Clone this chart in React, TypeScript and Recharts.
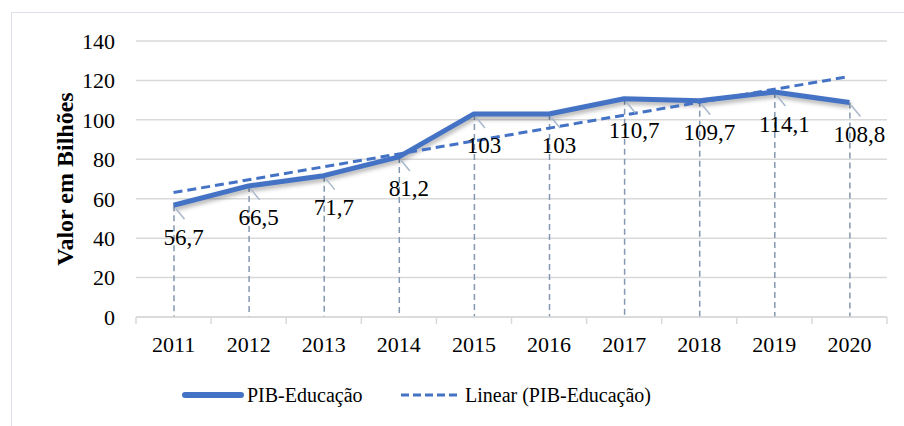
import {
  Bar,
  CartesianGrid,
  ComposedChart,
  LabelList,
  Line,
  XAxis,
  YAxis,
} from "recharts";

const years = [2011, 2012, 2013, 2014, 2015, 2016, 2017, 2018, 2019, 2020];
const pibEducacao = [56.7, 66.5, 71.7, 81.2, 103, 103, 110.7, 109.7, 114.1, 108.8];
// linha de tendência
const linearPib = [63.1, 69.6, 76.2, 82.7, 89.3, 95.8, 102.4, 108.9, 115.5, 122.0];
const yTicks = [0, 20, 40, 60, 80, 100, 120, 140];
const yearEdges = [2010.5, 2011.5, 2012.5, 2013.5, 2014.5, 2015.5, 2016.5, 2017.5, 2018.5, 2019.5, 2020.5];

const data = years.map((year, i) => ({
  year,
  value: pibEducacao[i],
  trend: linearPib[i],
}));

const FONT = '"Liberation Serif", "Times New Roman", serif';
const BLUE = "#4472c4";

const fmt = (v: number) => String(v).replace(".", ",");

function DropLine(props: any) {
  const { x, y, width, height } = props;
  const cx = x + width / 2;
  return (
    <line
      x1={cx}
      y1={y}
      x2={cx}
      y2={y + height}
      stroke="#8497b0"
      strokeWidth={1.5}
      strokeDasharray="6 4"
    />
  );
}

function PointLabel(props: any) {
  const { x, y, value } = props;
  return (
    <g>
      <line x1={x + 2} y1={y + 3} x2={x + 11} y2={y + 14} stroke="#a9b8cc" strokeWidth={1.5} />
      <text
        x={x + 10}
        y={y + 32}
        textAnchor="middle"
        dominantBaseline="central"
        fontSize={23}
        fontFamily={FONT}
        fill="#000"
      >
        {fmt(value)}
      </text>
    </g>
  );
}

function LegendBox() {
  return (
    <div
      style={{
        position: "absolute",
        left: 0,
        top: 380,
        width: 904,
        height: 30,
        fontFamily: FONT,
        fontSize: 20,
        color: "#000",
      }}
    >
      <svg width={904} height={30} style={{ position: "absolute", left: 0, top: 0 }}>
        <line x1={185} y1={15} x2={241} y2={15} stroke={BLUE} strokeWidth={6} strokeLinecap="round" />
        <line x1={401} y1={15} x2={459} y2={15} stroke={BLUE} strokeWidth={3} strokeDasharray="8 4" />
      </svg>
      <span style={{ position: "absolute", left: 247, top: 2, lineHeight: "26px" }}>PIB-Educação</span>
      <span style={{ position: "absolute", left: 465, top: 2, lineHeight: "26px" }}>
        Linear (PIB-Educação)
      </span>
    </div>
  );
}

export default function App() {
  return (
    <div style={{ position: "absolute", left: 0, top: 0, width: 904, height: 426, background: "#fff", overflow: "hidden" }}>
      <style>{`.pib-main path { filter: drop-shadow(1px 3px 2px rgba(0,0,0,0.3)); }`}</style>
      <div
        style={{
          position: "absolute",
          left: 11,
          top: 12,
          width: 920,
          height: 440,
          border: "1.5px solid #dadfe8",
        }}
      />
      <ComposedChart
        width={904}
        height={426}
        data={data}
        margin={{ top: 41, right: 17, bottom: 71, left: 76 }}
        style={{ position: "absolute", left: 0, top: 0 }}
      >
        <CartesianGrid vertical={false} stroke="#d9d9d9" strokeWidth={1.5} />
        <XAxis
          xAxisId="edges"
          dataKey="year"
          type="number"
          domain={[2010.5, 2020.5]}
          ticks={yearEdges}
          height={8}
          tick={() => <g />}
          tickSize={7}
          tickLine={{ stroke: "#d9d9d9", strokeWidth: 1.5 }}
          axisLine={{ stroke: "#d9d9d9", strokeWidth: 1.5 }}
        />
        <XAxis
          xAxisId="main"
          dataKey="year"
          type="number"
          domain={[2010.5, 2020.5]}
          ticks={years}
          height={30}
          axisLine={false}
          tickLine={false}
          tickMargin={5}
          tick={{ fontSize: 22, fontFamily: FONT, fill: "#000" }}
        />
        <YAxis
          type="number"
          domain={[0, 140]}
          ticks={yTicks}
          width={60}
          axisLine={false}
          tickLine={false}
          tickMargin={15}
          tick={{ fontSize: 22, fontFamily: FONT, fill: "#000" }}
          label={{
            value: "Valor em Bilhões",
            angle: -90,
            position: "left",
            offset: 12,
            style: { fontSize: 24, fontWeight: "bold", fontFamily: FONT, fill: "#000", textAnchor: "middle" },
          }}
        />
        <Bar xAxisId="main" dataKey="value" barSize={2} shape={DropLine} isAnimationActive={false} />
        <Line
          xAxisId="main"
          className="pib-main"
          type="linear"
          dataKey="value"
          stroke={BLUE}
          strokeWidth={5}
          strokeLinejoin="round"
          dot={false}
          activeDot={false}
          isAnimationActive={false}
        >
          <LabelList dataKey="value" content={PointLabel} />
        </Line>
        <Line
          xAxisId="main"
          type="linear"
          dataKey="trend"
          stroke={BLUE}
          strokeWidth={3}
          strokeDasharray="9 5"
          dot={false}
          activeDot={false}
          isAnimationActive={false}
        />
      </ComposedChart>
      <LegendBox />
    </div>
  );
}
